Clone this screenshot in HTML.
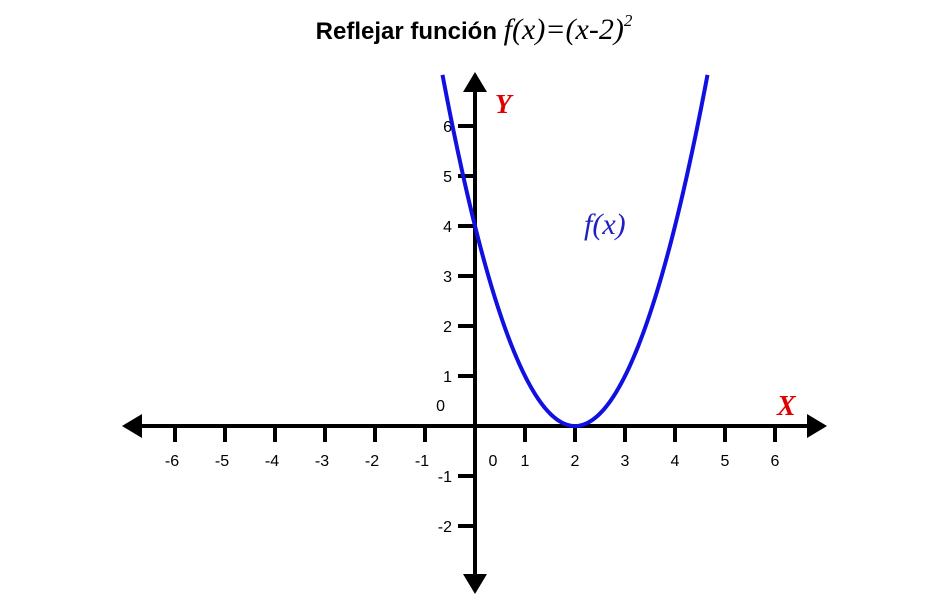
<!DOCTYPE html>
<html><head><meta charset="utf-8"><style>
html,body{margin:0;padding:0;background:#fff;}
svg{display:block}
</style></head><body>
<svg id="chart" width="950" height="608" viewBox="0 0 950 608">
<text x="474" y="39" text-anchor="middle"><tspan font-family="Liberation Sans, sans-serif" font-weight="bold" font-size="24">Reflejar función </tspan><tspan font-family="Liberation Serif, serif" font-style="italic" font-size="30">f(x)=(x-2)</tspan><tspan font-family="Liberation Serif, serif" font-style="italic" font-size="17" dy="-13">2</tspan></text>
<g id="axes"></g>
<g id="curve"></g>
<text x="495" y="113" font-family="Liberation Serif, serif" font-style="italic" font-weight="bold" font-size="27" fill="#e00000">Y</text>
<text x="777" y="415" font-family="Liberation Serif, serif" font-style="italic" font-weight="bold" font-size="28" fill="#e00000">X</text>
<text x="584" y="234" font-family="Liberation Serif, serif" font-style="italic" font-size="30" fill="#2020c0">f(x)</text>
</svg>
<script>
const xTicks=[-6,-5,-4,-3,-2,-1,1,2,3,4,5,6];
const yTicks=[-2,-1,1,2,3,4,5,6];
const xDomain=[-0.65,4.65];
const shift=2;
const X=v=>475+v*50, Y=v=>426-v*50;
const NS='http://www.w3.org/2000/svg';
const ax=document.getElementById('axes');
function mk(tag,attrs,parent){const e=document.createElementNS(NS,tag);for(const k in attrs)e.setAttribute(k,attrs[k]);parent.appendChild(e);return e;}
let l=mk('line',{x1:135,y1:426,x2:815,y2:426,stroke:'#000','stroke-width':4},ax);


l=mk('line',{x1:475,y1:85,x2:475,y2:582,stroke:'#000','stroke-width':4},ax);


const arrows=[['122,426 142,414 142,438','x-arrow-left'],['827,426 807,414 807,438','x-arrow-right'],['475,72 463,92 487,92','y-arrow-up'],['475,594 463,574 487,574','y-arrow-down']];
arrows.forEach(a=>{const p=mk('polygon',{points:a[0],fill:'#000'},ax);

});
const font='Liberation Sans, sans-serif';
xTicks.forEach(v=>{const t=mk('line',{x1:X(v),y1:426,x2:X(v),y2:442,stroke:'#000','stroke-width':4},ax);


const tx=mk('text',{x:X(v)-(v<0?3:0),y:466,'text-anchor':'middle','font-family':font,'font-size':16},ax);tx.textContent=v;

});
yTicks.forEach(v=>{const t=mk('line',{x1:458,y1:Y(v),x2:475,y2:Y(v),stroke:'#000','stroke-width':4},ax);


const tx=mk('text',{x:452,y:Y(v)+6,'text-anchor':'end','font-family':font,'font-size':16},ax);tx.textContent=v;

});
[[445,411,'end'],[493,466,'middle']].forEach(z=>{const tx=mk('text',{x:z[0],y:z[1],'text-anchor':z[2],'font-family':font,'font-size':16},ax);tx.textContent='0';

});
let d='';for(let i=0;i<=200;i++){const x=xDomain[0]+(xDomain[1]-xDomain[0])*i/200;const y=(x-shift)**2;d+=(i?'L':'M')+X(x).toFixed(2)+','+Y(y).toFixed(2);}
const p=mk('path',{d:d,fill:'none',stroke:'#1010e0','stroke-width':4},document.getElementById('curve'));


</script>
</body></html>
